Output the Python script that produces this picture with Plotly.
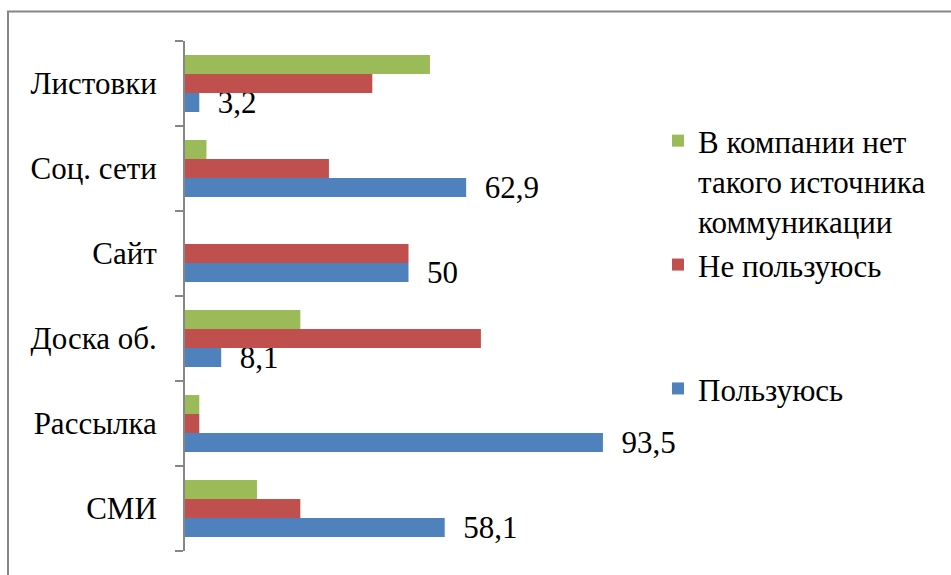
import plotly.graph_objects as go

# Categories listed bottom-to-top (category axes stack upward)
categories = ["СМИ", "Рассылка", "Доска об.", "Сайт", "Соц. сети", "Листовки"]

use_vals = [58.1, 93.5, 8.1, 50, 62.9, 3.2]          # Пользуюсь
not_use_vals = [25.8, 3.2, 66.2, 50, 32.2, 41.9]     # Не пользуюсь
absent_vals = [16.1, 3.2, 25.8, 0, 4.8, 54.8]        # В компании нет такого источника коммуникации

name_use = "Пользуюсь"
name_not_use = "Не пользуюсь<br> <br> "
name_absent = "В компании нет<br>такого источника<br>коммуникации"

BLUE = "#4F81BD"
RED = "#C0504D"
GREEN = "#9BBB59"
GREY = "#868686"
FONT = "Liberation Serif"
FS = 31


def fmt(v):
    return ("%g" % v).replace(".", ",")


def serif(size=FS):
    return dict(family=FONT, size=size, color="black")


fig = go.Figure()

fig.add_trace(go.Bar(
    y=categories, x=use_vals, orientation="h", name=name_use,
    marker=dict(color=BLUE, line=dict(width=0)),
    text=["\u00a0\u00a0" + fmt(v) for v in use_vals],
    textposition="outside", constraintext="none", cliponaxis=False,
    textfont=serif(), outsidetextfont=serif(),
))
fig.add_trace(go.Bar(
    y=categories, x=not_use_vals, orientation="h", name=name_not_use,
    marker=dict(color=RED, line=dict(width=0)),
))
fig.add_trace(go.Bar(
    y=categories, x=absent_vals, orientation="h", name=name_absent,
    marker=dict(color=GREEN, line=dict(width=0)),
))

L, R, T, B = 185, 319, 41, 24
W, H = 951, 575
pw, ph = W - L - R, H - T - B

def px_x(x):
    return (x - L) / pw

def px_y(y):
    return (H - B - y) / ph

fig.update_layout(
    width=W, height=H,
    margin=dict(l=L, r=R, t=T, b=B, pad=0),
    paper_bgcolor="white", plot_bgcolor="white",
    barmode="group", bargap=0.33, bargroupgap=0,
    font=serif(),
    showlegend=True,
    legend=dict(
        x=px_x(658), y=px_y(114), xanchor="left", yanchor="top",
        traceorder="reversed", valign="top",
        font=serif(),
        bgcolor="rgba(0,0,0,0)", tracegroupgap=0, itemwidth=30,
    ),
    xaxis=dict(range=[0, 100], visible=False, fixedrange=True),
    yaxis=dict(
        type="category", tickson="boundaries", ticks="outside",
        ticklen=8, tickwidth=2, tickcolor=GREY,
        showline=True, linecolor=GREY, linewidth=2,
        showgrid=False, zeroline=False,
        tickfont=serif(),
        ticklabelstandoff=20,
    ),
    # Outer chart frame
    shapes=[dict(type="rect", xref="paper", yref="paper",
                 x0=px_x(8), x1=px_x(990), y0=px_y(600), y1=px_y(11.5),
                 line=dict(color=GREY, width=2), fillcolor="rgba(0,0,0,0)")],
)

fig.write_html("out.html")
